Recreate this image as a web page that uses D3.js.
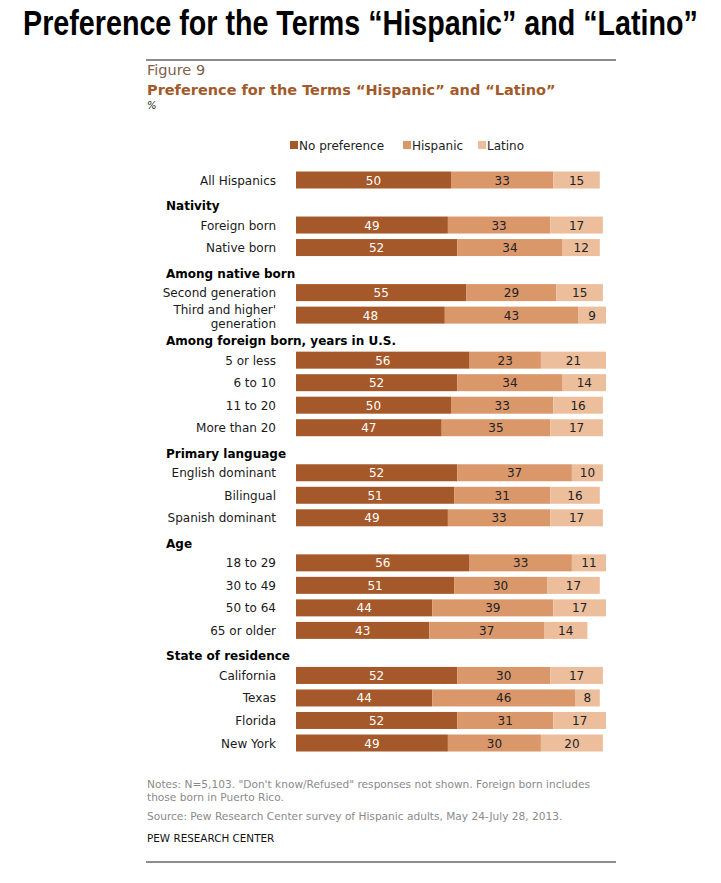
<!DOCTYPE html>
<html lang="en">
<head>
<meta charset="utf-8">
<title>Preference for the Terms Hispanic and Latino</title>
<script src="https://d3js.org/d3.v7.min.js"></script>
<style>
body { margin: 0; background: #fff; }
text { font-family: Verdana, "DejaVu Sans", sans-serif; }
.rowlabel { font-size: 12px; fill: #1a1a1a; text-anchor: end; }
.header { font-size: 12px; font-weight: bold; fill: #000; }
.val { font-size: 12px; text-anchor: middle; }
.note { font-size: 10.6px; fill: #8a8a8a; }
</style>
</head>
<body>
<div id="chart"></div>
<script>
// rows in order, "#" marks a group header row
var rows = ["All Hispanics",
  "#Nativity", "Foreign born", "Native born",
  "#Among native born", "Second generation", "Third and higher' generation",
  "#Among foreign born, years in U.S.", "5 or less", "6 to 10", "11 to 20", "More than 20",
  "#Primary language", "English dominant", "Bilingual", "Spanish dominant",
  "#Age", "18 to 29", "30 to 49", "50 to 64", "65 or older",
  "#State of residence", "California", "Texas", "Florida", "New York"];

var categories = rows.filter(function(r) { return r[0] != "#"; });
var noPreference = [50, 49, 52, 55, 48, 56, 52, 50, 47, 52, 51, 49, 56, 51, 44, 43, 52, 44, 52, 49];
var hispanic     = [33, 33, 34, 29, 43, 23, 34, 33, 35, 37, 31, 33, 33, 30, 39, 37, 30, 46, 31, 30];
var latino       = [15, 17, 12, 15,  9, 21, 14, 16, 17, 10, 16, 17, 11, 17, 17, 14, 17,  8, 17, 20];
var seriesNames = ["No preference", "Hispanic", "Latino"];
var colors = ["#a5592a", "#da976a", "#ecbe9c"];

var W = 721, H = 883;
var svg = d3.select("#chart").append("svg").attr("width", W).attr("height", H);

// big title on top, squeezed to look condensed
var t = svg.append("text")
  .attr("text-anchor", "middle")
  .style("font-family", "'Liberation Sans Narrow', 'Arial Narrow', 'Liberation Sans', Arial, sans-serif")
  .style("font-weight", "bold")
  .style("font-size", "35px")
  .text("Preference for the Terms \u201cHispanic\u201d and \u201cLatino\u201d");
var tw = t.node().getComputedTextLength();
var sx = tw > 0 ? 675 / tw : 1;
t.attr("transform", "translate(" + (W / 2) + ",35) scale(" + sx + ",1)");

// rules
svg.append("line").attr("x1", 146).attr("x2", 616).attr("y1", 60).attr("y2", 60)
  .attr("stroke", "#666").attr("stroke-width", 1.5);
svg.append("line").attr("x1", 146).attr("x2", 616).attr("y1", 862).attr("y2", 862)
  .attr("stroke", "#666").attr("stroke-width", 1.5);

svg.append("text").attr("x", 147).attr("y", 75)
  .style("font-size", "14.5px").style("fill", "#80604a").text("Figure 9");
svg.append("text").attr("x", 147).attr("y", 95)
  .style("font-size", "14.5px").style("font-weight", "bold").style("fill", "#a35a2b")
  .text("Preference for the Terms \u201cHispanic\u201d and \u201cLatino\u201d");
svg.append("text").attr("x", 147).attr("y", 109)
  .style("font-size", "10px").style("font-style", "italic").style("fill", "#222").text("%");

// legend
var legX = [290, 403, 478];
seriesNames.forEach(function(s, i) {
  svg.append("rect").attr("x", legX[i]).attr("y", 141).attr("width", 8).attr("height", 8)
    .attr("fill", colors[i]);
  svg.append("text").attr("x", legX[i] + 9).attr("y", 149.5)
    .style("font-size", "12px").style("fill", "#222").text(s);
});

// scales
var x = d3.scaleLinear().domain([0, 100]).range([296, 606]);
var y = d3.scalePoint().domain(d3.range(rows.length)).range([180, 743]);
var barH = 17;

var data = categories.map(function(c, i) {
  return { name: c, vals: [noPreference[i], hispanic[i], latino[i]] };
});

var rowIndex = {};
rows.forEach(function(r, i) { rowIndex[r] = i; });

// headers
rows.forEach(function(r, i) {
  if (r[0] != "#") return;
  svg.append("text").attr("class", "header")
    .attr("x", 166).attr("y", y(i) + 7.5)
    .text(r.slice(1));
});

var g = svg.selectAll(".row").data(data).enter().append("g")
  .attr("class", "row")
  .attr("transform", function(d) { return "translate(0," + y(rowIndex[d.name]) + ")"; });

g.each(function(d) {
  var row = d3.select(this);
  var cum = 0;
  d.vals.forEach(function(v, k) {
    row.append("rect")
      .attr("x", x(cum)).attr("y", -barH / 2)
      .attr("width", x(cum + v) - x(cum)).attr("height", barH)
      .attr("fill", colors[k]);
    row.append("text").attr("class", "val")
      .attr("x", (x(cum) + x(cum + v)) / 2).attr("y", 4.5)
      .style("fill", k == 0 ? "#fff" : "#222")
      .text(v);
    cum += v;
  });
  if (d.name.indexOf("Third") == 0) {
    row.append("text").attr("class", "rowlabel").attr("x", 276).attr("y", -1).text("Third and higher'");
    row.append("text").attr("class", "rowlabel").attr("x", 276).attr("y", 13).text("generation");
  } else {
    row.append("text").attr("class", "rowlabel").attr("x", 276).attr("y", 4.5).text(d.name);
  }
});

// notes
svg.append("text").attr("class", "note").attr("x", 147).attr("y", 788)
  .text("Notes: N=5,103. \"Don't know/Refused\" responses not shown.  Foreign born includes");
svg.append("text").attr("class", "note").attr("x", 147).attr("y", 801)
  .text("those born in Puerto Rico.");
svg.append("text").attr("class", "note").attr("x", 147).attr("y", 820)
  .text("Source: Pew Research Center survey of Hispanic adults, May 24-July 28, 2013.");
svg.append("text").attr("x", 147).attr("y", 842)
  .style("font-size", "10.4px").style("fill", "#111").text("PEW RESEARCH  CENTER");
</script>
</body>
</html>
